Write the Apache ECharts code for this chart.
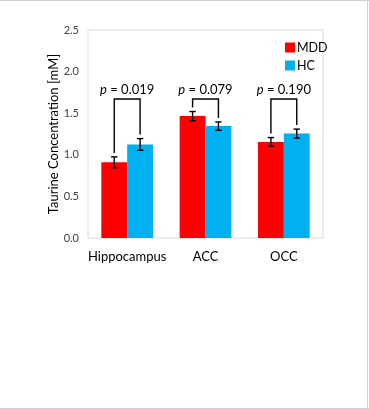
<!DOCTYPE html>
<html><head><meta charset="utf-8">
<script src="https://cdn.jsdelivr.net/npm/echarts@6/dist/echarts.min.js"></script>
<style>html,body{margin:0;padding:0;background:#fff}#c{width:369px;height:409px}</style>
</head><body><div id="c"></div>
<script>
var categories = ['Hippocampus', 'ACC', 'OCC'];
var mddValues = [0.91, 1.465, 1.155];
var hcValues = [1.125, 1.345, 1.255];
var mddErr = [0.065, 0.055, 0.052];
var hcErr = [0.07, 0.05, 0.054];
var pValues = ['0.019', '0.079', '0.190'];
var bracketTop = [1.67, 1.67, 1.67];
var yTicks = [0, 0.5, 1.0, 1.5, 2.0, 2.5];

var BAR_FRAC = 0.33;
var chart = echarts.init(document.getElementById('c'));
var FONT = 'Lato';

function errItem(params, api, offSign) {
  var i = api.value(0), v = api.value(1), e = api.value(2);
  var bw = api.size([1, 0])[0] * BAR_FRAC;
  var x = api.coord([i, v])[0] + offSign * bw / 2;
  var yt = api.coord([i, v + e])[1], yb = api.coord([i, v - e])[1];
  var cap = 3.2;
  var st = {stroke: '#000', lineWidth: 1.4};
  return {type: 'group', children: [
    {type: 'line', shape: {x1: x, y1: yt, x2: x, y2: yb}, style: st},
    {type: 'line', shape: {x1: x - cap, y1: yt, x2: x + cap, y2: yt}, style: st},
    {type: 'line', shape: {x1: x - cap, y1: yb, x2: x + cap, y2: yb}, style: st}
  ]};
}

var errMdd = categories.map(function (c, i) { return [i, mddValues[i], mddErr[i]]; });
var errHc = categories.map(function (c, i) { return [i, hcValues[i], hcErr[i]]; });
var brackets = categories.map(function (c, i) {
  return [i, bracketTop[i], mddValues[i] + mddErr[i], hcValues[i] + hcErr[i], pValues[i]];
});

chart.setOption({
  animation: false,
  backgroundColor: '#fff',
  textStyle: {fontFamily: FONT},
  graphic: [
    {type: 'line', shape: {x1: 0, y1: 0.5, x2: 369, y2: 0.5}, style: {stroke: '#d0d0d0', lineWidth: 1}},
    {type: 'line', shape: {x1: 367.5, y1: 0, x2: 367.5, y2: 409}, style: {stroke: '#d0d0d0', lineWidth: 1}},
    {type: 'line', shape: {x1: 0, y1: 408.5, x2: 369, y2: 408.5}, style: {stroke: '#d0d0d0', lineWidth: 1}}
  ],
  grid: {left: 88, top: 30, width: 235, height: 208, show: true, borderColor: '#d9d9d9', borderWidth: 1, backgroundColor: 'transparent'},
  legend: {
    orient: 'vertical', left: 280, top: 36, itemWidth: 10, itemHeight: 10, itemGap: 5,
    icon: 'rect', data: ['MDD', 'HC'],
    textStyle: {fontFamily: FONT, fontSize: 12.5, color: '#000', padding: [0, 0, 0, -3]}
  },
  xAxis: {
    type: 'category', data: categories,
    axisLine: {show: false}, axisTick: {show: false},
    axisLabel: {interval: 0, fontFamily: FONT, fontSize: 13, color: '#000', margin: 12}
  },
  yAxis: {
    type: 'value', min: 0, max: 2.5, interval: 0.5,
    name: 'Taurine Concentration [mM]', nameLocation: 'middle', nameGap: 28, nameMoveOverlap: false,
    nameTextStyle: {fontFamily: FONT, fontSize: 13, color: '#000'},
    axisLine: {show: false}, axisTick: {show: false}, splitLine: {show: false},
    axisLabel: {fontFamily: FONT, fontSize: 11, color: '#404040', margin: 9,
      formatter: function (v) { return yTicks.indexOf(v) >= 0 ? v.toFixed(1) : ''; }}
  },
  series: [
    {name: 'MDD', type: 'bar', data: mddValues, barWidth: '33%', barGap: '0%', itemStyle: {color: '#ff0000'}},
    {name: 'HC', type: 'bar', data: hcValues, barWidth: '33%', barGap: '0%', itemStyle: {color: '#00b0f0'}},
    {type: 'custom', data: errMdd, encode: {x: 0, y: 1}, z: 5, silent: true,
      renderItem: function (p, api) { return errItem(p, api, -1); }},
    {type: 'custom', data: errHc, encode: {x: 0, y: 1}, z: 5, silent: true,
      renderItem: function (p, api) { return errItem(p, api, 1); }},
    {type: 'custom', data: brackets, encode: {x: 0, y: 1}, z: 5, silent: true,
      renderItem: function (params, api) {
        var i = api.value(0);
        var bw = api.size([1, 0])[0] * BAR_FRAC;
        var cx = api.coord([i, api.value(1)])[0];
        var yTop = api.coord([i, api.value(1)])[1];
        var yL = api.coord([i, api.value(2)])[1] - 4;
        var yR = api.coord([i, api.value(3)])[1] - 4;
        var xl = cx - bw / 2, xr = cx + bw / 2;
        var p = brackets[params.dataIndex][4];
        return {type: 'group', children: [
          {type: 'polyline', shape: {points: [[xl, yL], [xl, yTop], [xr, yTop], [xr, yR]]},
            style: {stroke: '#000', lineWidth: 1.4, fill: null}},
          {type: 'text', x: cx, y: yTop - 9, style: {
            text: '{i|p} = ' + p, align: 'center', verticalAlign: 'middle',
            fontFamily: FONT, fontSize: 13, fill: '#000',
            rich: {i: {fontStyle: 'italic', fontFamily: FONT, fontSize: 13}}
          }}
        ]};
      }}
  ]
});
</script></body></html>
